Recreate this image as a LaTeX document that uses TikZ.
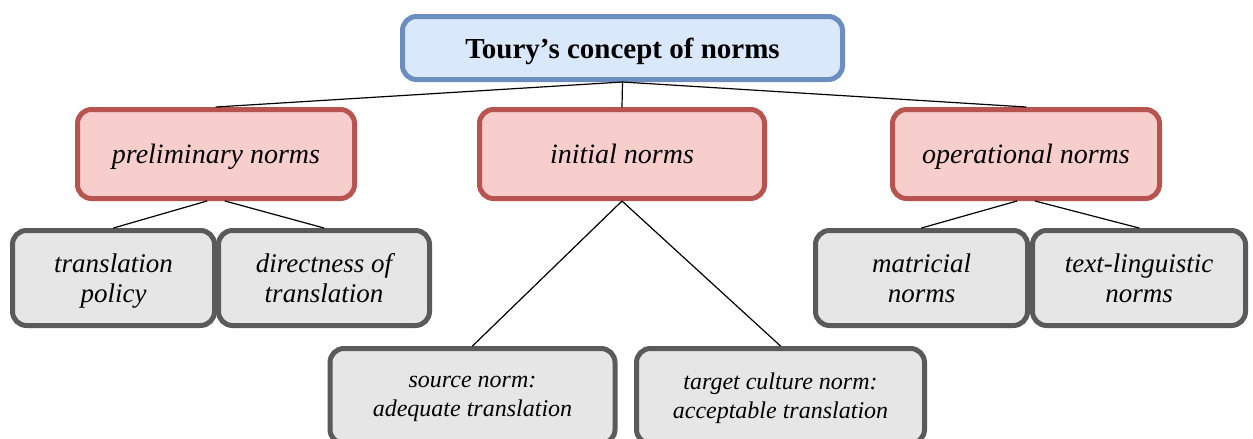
\documentclass[tikz,border=0pt]{standalone}
\usepackage{fontspec}
\setmainfont{Liberation Serif}[ItalicFont={Liberation Serif Italic}, BoldFont={Liberation Serif Bold}]
\begin{document}
\begin{tikzpicture}[x=0.5pt, y=-0.5pt, line join=round, line cap=round]
			\def\xmax{1253}
			\def\ymax{439}
			% Các kiểu hộp
			\tikzset{
				box/.style={draw, line width=2.5pt, rounded corners=7pt, inner sep=0pt, align=center, text depth=0pt},
				topbox/.style={box, draw=topline, fill=topfill, minimum width=220pt, minimum height=31.5pt, font=\fontsize{14.5}{17}\selectfont\bfseries},
				normbox/.style={box, draw=normline, fill=normfill, minimum height=44.5pt, font=\fontsize{14}{17}\selectfont\itshape},
				subbox/.style={box, draw=subline, fill=subfill, minimum height=47.5pt, font=\fontsize{13.5}{15}\selectfont\itshape},
				leafbox/.style={box, draw=subline, fill=subfill, minimum height=47.5pt, font=\fontsize{12}{14.5}\selectfont\itshape},
				link/.style={line width=0.6pt}
			}
			\definecolor{topline}{HTML}{6C8EBF}
			\definecolor{topfill}{HTML}{DAE8FC}
			\definecolor{normline}{HTML}{B85450}
			\definecolor{normfill}{HTML}{F8CECC}
			\definecolor{subline}{HTML}{5A5A5A}
			\definecolor{subfill}{HTML}{E6E6E6}
			\useasboundingbox (0,0) rectangle (\xmax,\ymax);
			\clip (0,0) rectangle (\xmax,\ymax);
			% Hộp trên cùng
			\node[topbox] (toury) at (622.5,48) {Toury’s concept of norms};
			% Ba loại chuẩn mực
			\node[normbox, minimum width=138.5pt] (prel) at (216,154) {preliminary norms};
			\node[normbox, minimum width=142.5pt] (init) at (622,154) {initial norms};
			\node[normbox, minimum width=133.5pt] (oper) at (1026,154) {operational norms};
			% Các hộp con
			\node[subbox, minimum width=101pt] (policy) at (113.5,278) {translation\\policy};
			\node[subbox, minimum width=105.5pt] (direct) at (324,278) {directness of\\translation};
			\node[subbox, minimum width=106pt] (matric) at (921.5,278) {matricial\\norms};
			\node[subbox, minimum width=106.5pt] (textling) at (1139,278) {text-linguistic\\norms};
			\node[leafbox, minimum width=142.5pt] (source) at (472.5,396) {source norm:\\adequate translation};
			\node[leafbox, minimum width=144pt] (target) at (780.5,396) {target culture norm:\\acceptable translation};
			% Các đường nối
			\draw[link] (toury.south) -- (prel.north)
			(toury.south) -- (init.north)
			(toury.south) -- (oper.north);
			\draw[link] ([xshift=-4.5pt]prel.south) -- (policy.north)
			([xshift=4.5pt]prel.south) -- (direct.north);
			\draw[link] (init.south) -- (source.north)
			(init.south) -- (target.north);
			\draw[link] ([xshift=-4.5pt]oper.south) -- (matric.north)
			([xshift=4.5pt]oper.south) -- (textling.north);
	\end{tikzpicture}
\end{document}
